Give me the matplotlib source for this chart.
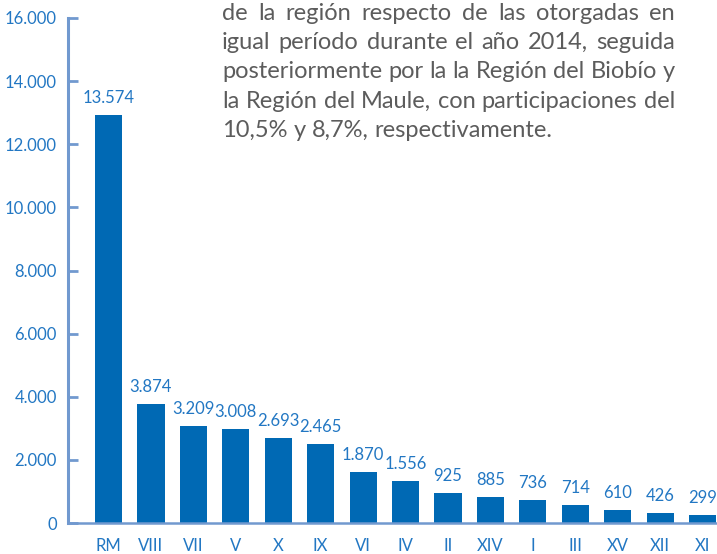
import matplotlib
matplotlib.use("Agg")
import matplotlib.pyplot as plt

plt.rcParams["font.family"] = ["Lato", "DejaVu Sans"]

# datos del grafico
regiones = ["RM", "VIII", "VII", "V", "X", "IX", "VI", "IV", "II", "XIV", "I", "III", "XV", "XII", "XI"]
etiquetas = ["13.574", "3.874", "3.209", "3.008", "2.693", "2.465", "1.870", "1.556",
             "925", "885", "736", "714", "610", "426", "299"]
# alturas de las barras tal como aparecen dibujadas
alturas = [12930, 3770, 3070, 2980, 2690, 2500, 1620, 1330, 950, 820, 730, 570, 410, 320, 250]
y_ticks = [0, 2000, 4000, 6000, 8000, 10000, 12000, 14000, 16000]
y_labels = ["0", "2.000", "4.000", "6.000", "8.000", "10.000", "12.000", "14.000", "16.000"]

parrafo = [
    "de la región respecto de las otorgadas en",
    "igual período durante el año 2014, seguida",
    "posteriormente por la la Región del Biobío y",
    "la Región del Maule, con participaciones del",
    "10,5% y 8,7%, respectivamente.",
]

azul_barra = "#0069b4"
azul_texto = "#2277c3"
azul_eje = "#7199cf"
gris = "#5c5c5c"

W, H = 717, 554
fig = plt.figure(figsize=(W / 100, H / 100), dpi=100)
ax = fig.add_axes([68 / W, 31 / H, (W - 68) / W, (523 - 18) / H])

x = list(range(len(regiones)))
ax.bar(x, alturas, width=0.64, color=azul_barra, zorder=2)

for xi, h, lab in zip(x, alturas, etiquetas):
    ax.annotate(lab, (xi, h), xytext=(0, 12.5), textcoords="offset points",
                ha="center", va="center", fontsize=12, color=azul_texto)

ax.set_xlim(-0.955, 14.34)
ax.set_ylim(0, 16000)
ax.set_yticks(y_ticks)
ax.set_yticklabels(y_labels)
ax.set_xticks(x)
ax.set_xticklabels(regiones)

for s in ["top", "right"]:
    ax.spines[s].set_visible(False)
ax.spines["left"].set_color(azul_eje)
ax.spines["left"].set_linewidth(2.2)
ax.spines["bottom"].set_color(azul_eje)
ax.spines["bottom"].set_linewidth(1.8)

ax.tick_params(axis="y", direction="in", length=7, width=2, color=azul_eje,
               labelcolor=azul_texto, labelsize=12, pad=8)
ax.tick_params(axis="x", length=0, labelcolor=azul_texto, labelsize=12, pad=11)

# texto del informe, justificado
fig.canvas.draw()
r = fig.canvas.get_renderer()
x0, x1 = 222 / W, 675 / W
baselines = [20, 49, 78.5, 108, 137]
tam = 17
prueba = fig.text(0, 0, "a a", fontsize=tam)
prueba2 = fig.text(0, 0, "aa", fontsize=tam)
esp = (prueba.get_window_extent(r).width - prueba2.get_window_extent(r).width) / W
prueba.remove()
prueba2.remove()

for i, linea in enumerate(parrafo):
    yb = 1 - baselines[i] / H
    palabras = linea.split()
    textos = [fig.text(0, yb, p, fontsize=tam, color=gris, va="baseline") for p in palabras]
    anchos = [t.get_window_extent(r).width / W for t in textos]
    if i < len(parrafo) - 1:
        gap = (x1 - x0 - sum(anchos)) / (len(palabras) - 1)
    else:
        gap = esp
    xp = x0
    for t, w in zip(textos, anchos):
        t.set_x(xp)
        xp += w + gap

fig.savefig("out.png", dpi=100)
